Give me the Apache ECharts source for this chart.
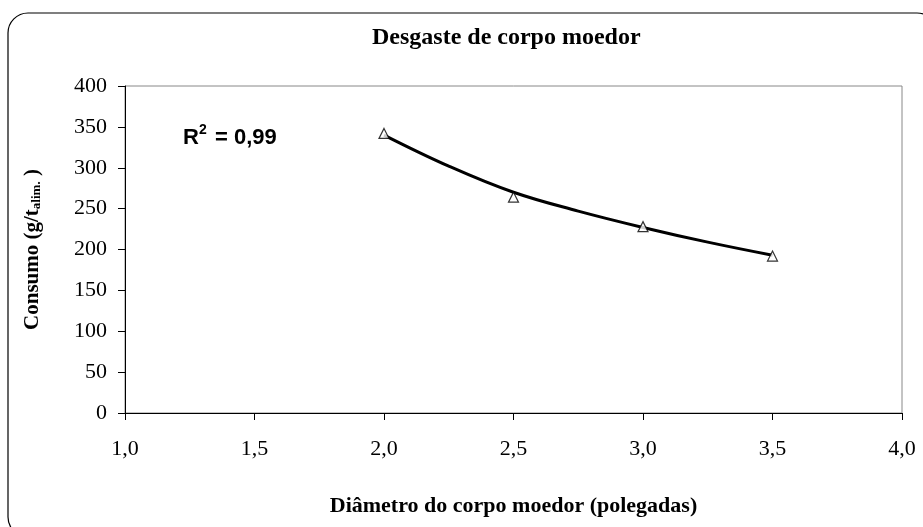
<!DOCTYPE html>
<html>
<head>
<meta charset="utf-8">
<script src="https://cdn.jsdelivr.net/npm/echarts@6/dist/echarts.min.js"></script>
<style>
html, body { margin: 0; padding: 0; background: #fff; }
#chart { width: 923px; height: 527px; }
</style>
</head>
<body>
<div id="chart"></div>
<script>
// measured points (diameter in inches, consumption g/t)
var diametros = [2.0, 2.5, 3.0, 3.5];
var consumo = [342, 264, 228, 192];
// trend line
var trendX = [2.0, 2.25, 2.5, 2.75, 3.0, 3.25, 3.5];
var trendY = [340, 302, 270, 247, 227, 209, 193];

var chart = echarts.init(document.getElementById('chart'));

var serif = '"Liberation Serif", "Times New Roman", serif';
var sans = '"Liberation Sans", Arial, sans-serif';

chart.setOption({
	animation: false,
	title: {
		text: 'Desgaste de corpo moedor',
		left: 372,
		top: 26,
		padding: 0,
		textStyle: {
			fontFamily: serif,
			fontSize: 24,
			fontWeight: 'bold',
			color: '#000'
		}
	},
	grid: {
		left: 125,
		right: 21,
		top: 86,
		bottom: 114,
		show: true,
		borderColor: '#888',
		borderWidth: 1,
		backgroundColor: 'transparent'
	},
	graphic: [
		{
			type: 'rect',
			shape: { x: 8, y: 13, width: 929, height: 524, r: 20 },
			style: { fill: 'none', stroke: '#000', lineWidth: 1.2 },
			z: -1
		},
		{
			type: 'text', x: 183, y: 127,
			style: { text: 'R', font: 'bold 22px ' + sans, fill: '#000', verticalAlign: 'top' }
		},
		{
			type: 'text', x: 199, y: 123,
			style: { text: '2', font: 'bold 14px ' + sans, fill: '#000', verticalAlign: 'top' }
		},
		{
			type: 'text', x: 215, y: 127,
			style: { text: '= 0,99', font: 'bold 22px ' + sans, fill: '#000', verticalAlign: 'top' }
		}
	],
	xAxis: {
		type: 'value',
		min: 1.0,
		max: 4.0,
		interval: 0.5,
		name: 'Diâmetro do corpo moedor (polegadas)',
		nameLocation: 'middle',
		nameGap: 82,
		nameTextStyle: { fontFamily: serif, fontSize: 22, fontWeight: 'bold', color: '#000' },
		axisLine: { lineStyle: { color: '#000', width: 1 } },
		axisTick: { show: true, length: 7, inside: false, lineStyle: { color: '#000' } },
		axisLabel: {
			fontFamily: serif, fontSize: 22, color: '#000', margin: 25,
			formatter: function (v) { return v.toFixed(1).replace('.', ','); }
		},
		splitLine: { show: false }
	},
	yAxis: {
		type: 'value',
		min: 0,
		max: 400,
		interval: 50,
		name: '{n|Consumo (g/t}{sub|alim.}{n| )}',
		nameLocation: 'middle',
		nameGap: 82,
		nameTextStyle: {
			rich: {
				n: { fontFamily: serif, fontSize: 21, fontWeight: 'bold', color: '#000' },
				sub: { fontFamily: serif, fontSize: 13, fontWeight: 'bold', color: '#000', verticalAlign: 'bottom', padding: [8, 0, 0, 0] }
			}
		},
		axisLine: { show: true, lineStyle: { color: '#000', width: 1 } },
		axisTick: { show: true, length: 7, lineStyle: { color: '#000' } },
		axisLabel: { fontFamily: serif, fontSize: 22, color: '#000', margin: 18 },
		splitLine: { show: false }
	},
	series: [
		{
			name: 'Tendência',
			type: 'line',
			data: trendX.map(function (x, i) { return [x, trendY[i]]; }),
			smooth: 0.4,
			showSymbol: false,
			lineStyle: { color: '#000', width: 3 },
			z: 2
		},
		{
			name: 'Consumo',
			type: 'scatter',
			data: diametros.map(function (x, i) { return [x, consumo[i]]; }),
			symbol: 'triangle',
			symbolSize: 10,
			itemStyle: { color: '#fff', borderColor: '#000', borderWidth: 1.2 },
			z: 3
		}
	]
});
</script>
</body>
</html>
